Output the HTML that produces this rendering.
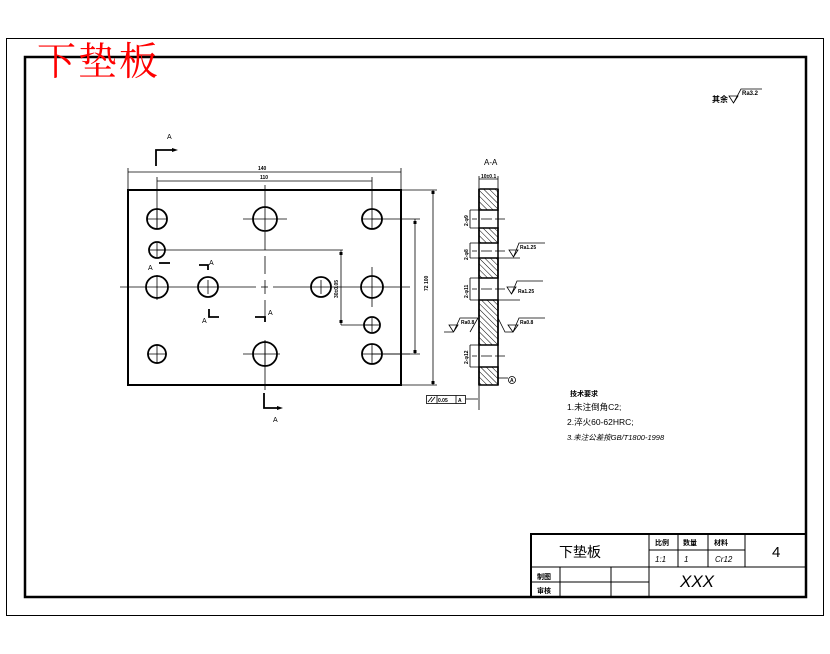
<!DOCTYPE html>
<html><head><meta charset="utf-8"><style>
html,body{margin:0;padding:0;background:#fff;}
svg{display:block;}
text{font-family:"Liberation Sans","Noto Sans CJK SC",sans-serif;fill:#000;}
</style></head><body>
<svg width="830" height="654" viewBox="0 0 830 654" xmlns="http://www.w3.org/2000/svg">
<defs>
<pattern id="h" width="4" height="4" patternUnits="userSpaceOnUse" patternTransform="rotate(-45)">
<line x1="0" y1="0" x2="0" y2="4" stroke="#000" stroke-width="1"/>
</pattern>
</defs>
<rect x="0" y="0" width="830" height="654" fill="#fff"/>
<rect x="6.5" y="38.5" width="817" height="577" fill="none" stroke="#000" stroke-width="1"/>
<rect x="25" y="57" width="781" height="540" fill="none" stroke="#000" stroke-width="2.5"/>
<text x="37" y="75" font-size="39" style="font-family:'Noto Serif CJK SC','WenQuanYi Zen Hei',serif;fill:#f00" textLength="121">下垫板</text>

<text x="712" y="102" font-size="8" font-weight="bold">其余</text>
<path d="M729 96 L738 96 L733.5 103 Z M733.5 103 L741 89 L762 89" fill="none" stroke="#000" stroke-width="0.8"/>
<text x="742" y="95" font-size="6" font-weight="bold">Ra3.2</text>

<g stroke="#000" fill="none">
<rect x="128" y="190" width="273" height="195" stroke-width="2"/>
<g stroke-width="0.8">
<line x1="128" y1="168" x2="128" y2="190"/><line x1="401" y1="168" x2="401" y2="190"/>
<line x1="128" y1="172" x2="401" y2="172"/>
<line x1="157" y1="177" x2="157" y2="229"/><line x1="372" y1="177" x2="372" y2="229"/>
<line x1="157" y1="181" x2="372" y2="181"/>
<line x1="401" y1="190" x2="437" y2="190"/><line x1="401" y1="385" x2="437" y2="385"/>
<line x1="433" y1="190" x2="433" y2="385"/>
<line x1="372" y1="219" x2="420" y2="219"/><line x1="372" y1="354" x2="420" y2="354"/>
<line x1="415" y1="219" x2="415" y2="354"/>
<line x1="157" y1="250" x2="343" y2="250"/><line x1="341" y1="250" x2="341" y2="325"/>
<line x1="341" y1="325" x2="372" y2="325"/>
<line x1="120" y1="287" x2="256" y2="287"/><line x1="261" y1="287" x2="268" y2="287"/><line x1="273" y1="287" x2="410" y2="287"/>
<line x1="265" y1="185" x2="265" y2="230"/>
<line x1="265" y1="232" x2="265" y2="250"/><line x1="265" y1="256" x2="265" y2="274"/><line x1="265" y1="280" x2="265" y2="294"/><line x1="265" y1="300" x2="265" y2="318"/>
<line x1="265" y1="340" x2="265" y2="390"/>
<line x1="243" y1="219" x2="287" y2="219"/><line x1="243" y1="354" x2="280" y2="354"/>
<line x1="157" y1="275" x2="157" y2="300"/><line x1="372" y1="267" x2="372" y2="307"/>
<line x1="147" y1="219" x2="167" y2="219"/><line x1="157" y1="209" x2="157" y2="229"/>
<line x1="362" y1="219" x2="382" y2="219"/>
<line x1="150" y1="250" x2="164" y2="250"/><line x1="157" y1="243" x2="157" y2="257"/>
<line x1="208" y1="280" x2="208" y2="294"/><line x1="321" y1="280" x2="321" y2="294"/>
<line x1="372" y1="318" x2="372" y2="332"/><line x1="365" y1="325" x2="379" y2="325"/>
<line x1="147" y1="354" x2="167" y2="354"/><line x1="157" y1="344" x2="157" y2="364"/>
<line x1="362" y1="354" x2="410" y2="354"/><line x1="372" y1="344" x2="372" y2="364"/>
<line x1="265" y1="342" x2="265" y2="366"/>
</g>
<g stroke-width="1.8">
<circle cx="157" cy="219" r="10"/><circle cx="265" cy="219" r="12"/><circle cx="372" cy="219" r="10"/>
<circle cx="157" cy="250" r="8"/>
<circle cx="157" cy="287" r="11"/><circle cx="208" cy="287" r="10"/><circle cx="321" cy="287" r="10"/><circle cx="372" cy="287" r="11"/>
<circle cx="372" cy="325" r="8"/>
<circle cx="157" cy="354" r="9"/><circle cx="265" cy="354" r="12"/><circle cx="372" cy="354" r="10"/>
<path d="M156 166 V150 H172"/><path d="M264 393 V408 H277"/>
<path d="M159 263 H170"/><path d="M199 265 H208 V270"/>
<path d="M209 309 V317 H219"/><path d="M255 317 H265 V322"/>
</g>
<path d="M172 148 L178 150 L172 152 Z M277 406 L283 408 L277 410 Z" fill="#000" stroke="none"/>
<g fill="#000" stroke="none">
<rect x="431.5" y="191" width="3" height="3"/><rect x="431.5" y="381" width="3" height="3"/>
<rect x="413.5" y="221" width="3" height="3"/><rect x="413.5" y="350" width="3" height="3"/>
<rect x="339.5" y="252" width="3" height="3"/><rect x="339.5" y="320" width="3" height="3"/>
</g>
</g>
<g font-size="7">
<text x="167" y="139">A</text><text x="273" y="422">A</text>
<text x="148" y="270">A</text><text x="209" y="265">A</text>
<text x="202" y="323">A</text><text x="268" y="315">A</text>
<text x="258" y="170" font-size="5" font-weight="bold">140</text>
<text x="260" y="179" font-size="5" font-weight="bold">110</text>
<text font-size="5" font-weight="bold" transform="translate(428,291) rotate(-90)">72 100</text>
<text font-size="5" font-weight="bold" transform="translate(338,298) rotate(-90)">30±0.05</text>
</g>

<text x="484" y="165" font-size="8">A-A</text>
<g stroke="#000" stroke-width="0.8" fill="none">
<line x1="479" y1="176" x2="479" y2="188"/><line x1="498" y1="176" x2="498" y2="188"/>
<line x1="479" y1="179" x2="498" y2="179"/>
</g>
<text x="481" y="178" font-size="5" font-weight="bold">10±0.1</text>
<g stroke="#000" fill="url(#h)" stroke-width="1.5">
<rect x="479" y="189" width="19" height="21"/>
<rect x="479" y="228" width="19" height="15"/>
<rect x="479" y="258" width="19" height="20"/>
<rect x="479" y="300" width="19" height="45"/>
<rect x="479" y="367" width="19" height="18"/>
</g>
<g stroke="#000" stroke-width="1.5" fill="none">
<line x1="479" y1="189" x2="479" y2="385"/><line x1="498" y1="189" x2="498" y2="385"/>
</g>
<g stroke="#000" stroke-width="0.8" fill="none">
<path d="M470 210H479 M470 228H479 M470 210V228"/>
<path d="M470 243H479 M470 258H479 M470 243V258"/>
<path d="M470 278H479 M470 300H479 M470 278V300"/>
<path d="M470 345H479 M470 367H479 M470 345V367"/>
<path d="M472 219H477 M481 219H492 M495 219H505"/>
<path d="M472 251H477 M481 251H492 M495 251H505 M498 258H520"/>
<path d="M472 289H477 M481 289H492 M495 289H505 M498 300H520"/>
<path d="M472 356H477 M481 356H492 M495 356H505"/>
<path d="M498 378H508"/><circle cx="512" cy="380" r="3.5"/>
<path d="M479 385V410 M466 399H478"/>
<path d="M509 250H518L513.5 257Z M513.5 257L519 243H545"/>
<path d="M507 287H516L511.5 294Z M511.5 294L517 281H543"/>
<path d="M508 325H518L513 332Z M513 332L519 318H545 M498 318L505 332H513"/>
<path d="M449 325H458L453.5 332Z M453.5 332L460 318H478 M444 332H453 M478 318L470 332"/>
<rect x="426.5" y="395.5" width="39" height="8"/>
<path d="M437 395.5V403.5 M456 395.5V403.5 M428 402L432 397 M431 402L435 397"/>
</g>
<g font-size="5" font-weight="bold">
<text x="520" y="249">Ra1.25</text><text x="518" y="293">Ra1.25</text>
<text x="520" y="324">Ra0.8</text><text x="461" y="324">Ra0.8</text>
<text x="438" y="402">0.05</text><text x="458" y="402">A</text>
<text x="510" y="382" font-size="5">A</text>
<text transform="translate(468,226) rotate(-90)">2-φ9</text>
<text transform="translate(468,260) rotate(-90)">2-φ8</text>
<text transform="translate(468,298) rotate(-90)">2-φ11</text>
<text transform="translate(468,364) rotate(-90)">2-φ12</text>
</g>

<g font-size="8.5">
<text x="570" y="396" font-size="7" font-weight="bold">技术要求</text>
<text x="567" y="410">1.未注倒角C2;</text>
<text x="567" y="425">2.淬火60-62HRC;</text>
<text x="567" y="440" font-size="7.5" font-style="italic">3.未注公差按GB/T1800-1998</text>
</g>

<g stroke="#000" fill="none">
<rect x="531" y="534" width="275" height="63" stroke-width="2"/>
<g stroke-width="1">
<line x1="531" y1="567" x2="806" y2="567"/>
<line x1="649" y1="550" x2="745" y2="550"/>
<line x1="531" y1="582" x2="649" y2="582"/>
<line x1="649" y1="534" x2="649" y2="597"/>
<line x1="678" y1="534" x2="678" y2="567"/>
<line x1="708" y1="534" x2="708" y2="567"/>
<line x1="745" y1="534" x2="745" y2="567"/>
<line x1="560" y1="567" x2="560" y2="597"/>
<line x1="611" y1="567" x2="611" y2="597"/>
</g>
</g>
<text x="559" y="557" font-size="14">下垫板</text>
<g font-size="7" font-weight="bold">
<text x="655" y="545">比例</text><text x="683" y="545">数量</text><text x="714" y="545">材料</text>
<text x="537" y="579">制图</text><text x="537" y="593">审核</text>
</g>
<g font-size="8" font-style="italic">
<text x="655" y="562">1:1</text><text x="684" y="562">1</text><text x="715" y="562">Cr12</text>
</g>
<text x="772" y="557" font-size="15">4</text>
<text x="680" y="587" font-size="17" font-style="italic">XXX</text>
</svg>
</body></html>
